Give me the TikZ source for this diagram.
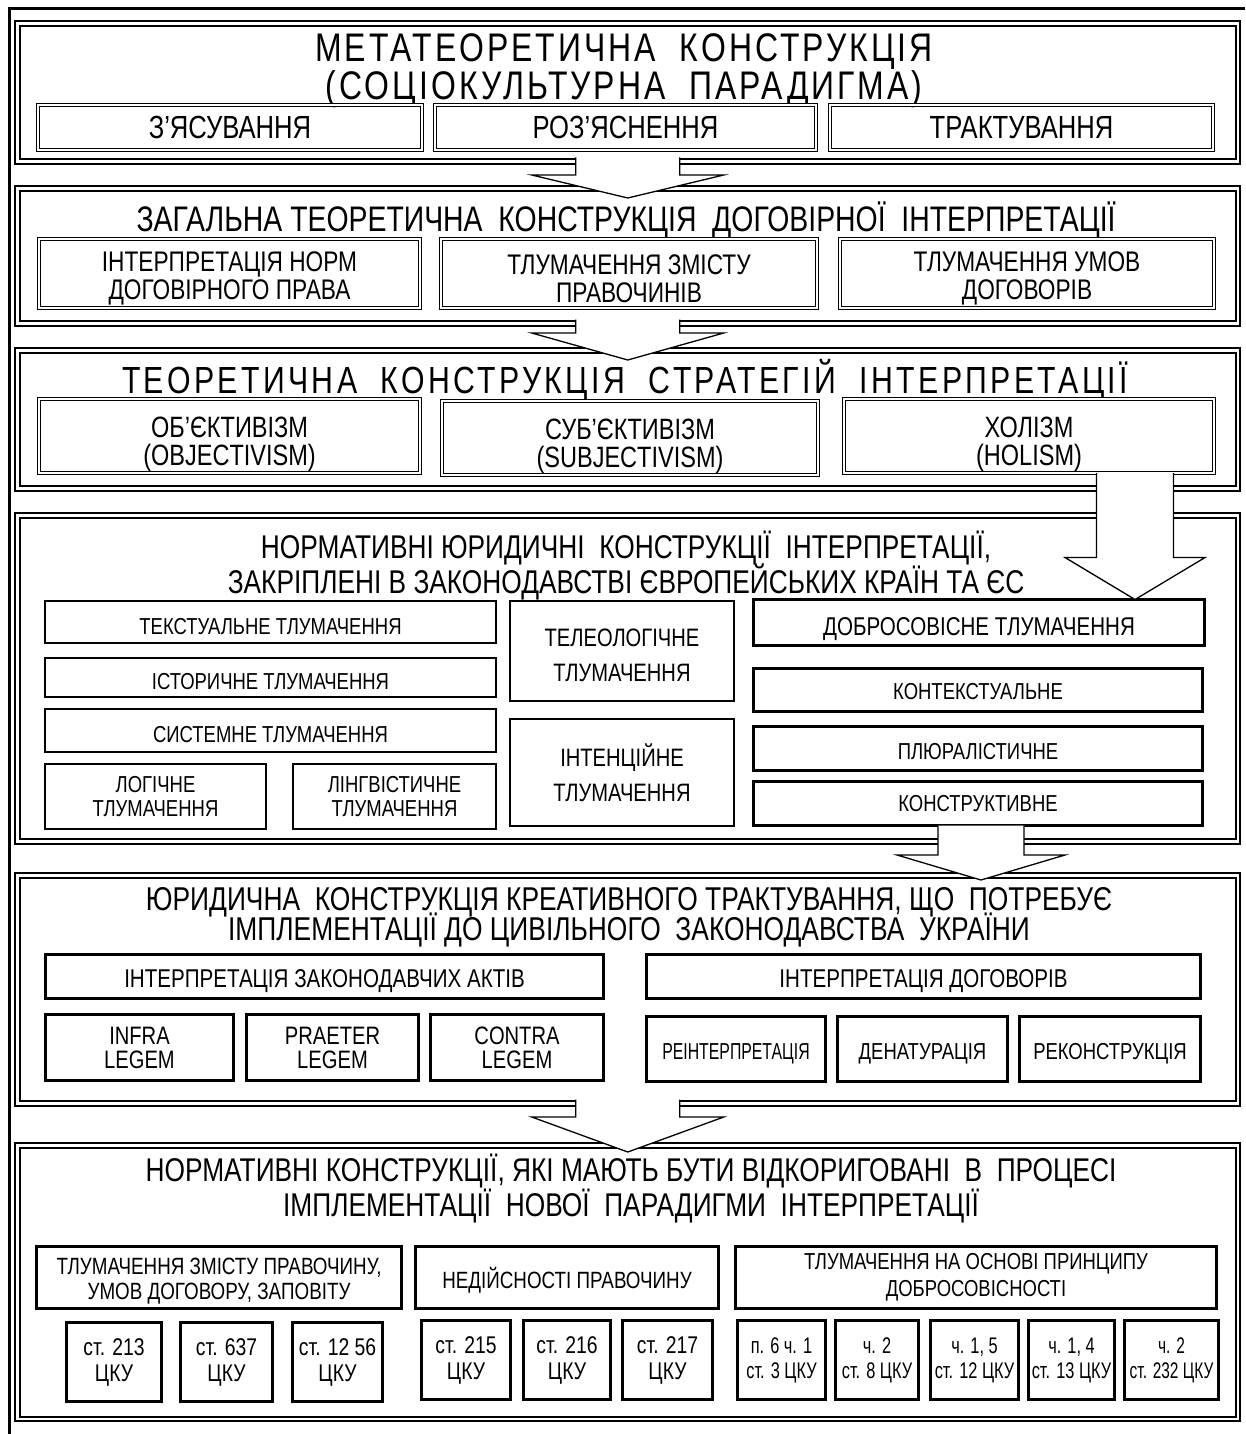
\documentclass[tikz,border=0pt]{standalone}
\usepackage{fontspec}
\setmainfont{Liberation Sans}[Scale=1.05,FakeStretch=0.80]
\newfontfamily\spacedfont{Liberation Sans}[Scale=1.05,FakeStretch=0.80,LetterSpace=7.6]
\newfontfamily\widefont{Liberation Sans}[Scale=1.05,FakeStretch=0.80,LetterSpace=8.9]
\newfontfamily\slimfont{Liberation Sans}[Scale=1.05,FakeStretch=0.725]
\newfontfamily\narrowfont{Liberation Sans}[Scale=1.05,FakeStretch=0.685]
\usetikzlibrary{calc,positioning}

\newcommand{\blockarrow}[5]{%
  \filldraw[arr] ($(#1)+(-#3,0)$) -- ($(#2)+(-#3,-#5)$) -- ($(#2)+(-#4,-#5)$) -- (#2)
    -- ($(#2)+(#4,-#5)$) -- ($(#2)+(#3,-#5)$) -- ($(#1)+(#3,0)$);}

\begin{document}
\lineskiplimit=-50pt
\begin{tikzpicture}[x=1pt,y=-1pt,
  blk/.style={draw,double,line width=1.7pt,double distance=2.8pt,inner sep=0pt,outer sep=0pt},
  sub/.style={draw,double,line width=0.9pt,double distance=1.8pt,inner sep=0pt,outer sep=0pt},
  frm/.style={draw,line width=2pt,inner sep=0pt,outer sep=0pt},
  cell/.style={frm,font=\fontsize{22}{24}\selectfont,text height=24pt,text depth=0pt},
  cellm/.style={frm,align=center,font=\fontsize{22}{24}\selectfont},
  heavy/.style={line width=3pt},
  lb/.style={align=center,inner sep=0pt,font=\fontsize{27}{28}\selectfont},
  ttl/.style={align=center,inner sep=0pt,font=\fontsize{31.3}{35}\selectfont},
  arr/.style={draw,fill=white,line width=1.3pt,line join=miter}]
\useasboundingbox (0,0) rectangle (1245,1434);
\draw[line width=3pt] (9,1434) -- (9,8.5) -- (1245,8.5);

\node[blk,minimum width=1220.5,minimum height=138] (b_1) at (627.75,92.5) {};
\node[blk,minimum width=1220.5,minimum height=135] (b_2) at (627.75,256) {};
\node[blk,minimum width=1220.5,minimum height=138] (b_3) at (627.75,419.5) {};
\node[blk,minimum width=1220.5,minimum height=326] (b_4) at (627.75,678.5) {};
\node[blk,minimum width=1220.5,minimum height=228] (b_5) at (627.75,989.5) {};
\node[blk,minimum width=1220.5,minimum height=273.5] (b_6) at (627.75,1282.25) {};

% metateoretychna
\node[ttl,font={\spacedfont\fontsize{38}{38}\selectfont}] (t_1) at (624,70.5)
  {МЕТАТЕОРЕТИЧНА~ КОНСТРУКЦІЯ\\(СОЦІОКУЛЬТУРНА~ ПАРАДИГМА)};
\node[sub,minimum width=384,minimum height=45.4,font=\fontsize{30.5}{32}\selectfont] (s_11) at (230,127.5) {З’ЯСУВАННЯ};
\node[sub,minimum width=381,minimum height=45.4,font=\fontsize{30.5}{32}\selectfont] (s_12) at (625.5,127.5) {РОЗ’ЯСНЕННЯ};
\node[sub,minimum width=383,minimum height=45.4,font=\fontsize{30.5}{32}\selectfont] (s_13) at (1021.5,127.5) {ТРАКТУВАННЯ};

% zagalna
\node[ttl,font=\fontsize{33.8}{35}\selectfont] (t_2) at (626,220)
  {ЗАГАЛЬНА ТЕОРЕТИЧНА~ КОНСТРУКЦІЯ~ ДОГОВІРНОЇ~ ІНТЕРПРЕТАЦІЇ};
\node[sub,minimum width=381,minimum height=69.4,label={[lb,yshift=-5pt]center:{ІНТЕРПРЕТАЦІЯ НОРМ\\ДОГОВІРНОГО ПРАВА}}] (s_21) at (229.5,273.5) {};
\node[sub,minimum width=376,minimum height=69.4,label={[lb,yshift=-5pt]center:{ТЛУМАЧЕННЯ ЗМІСТУ\\ПРАВОЧИНІВ}}] (s_22) at (629,273.5) {};
\node[sub,minimum width=374,minimum height=69.4,label={[lb,yshift=-5pt]center:{ТЛУМАЧЕННЯ УМОВ\\ДОГОВОРІВ}}] (s_23) at (1027,273.5) {};

% strategii
\node[ttl,font={\widefont\fontsize{36}{37}\selectfont}] (t_3) at (625,380)
  {ТЕОРЕТИЧНА~ КОНСТРУКЦІЯ~ СТРАТЕГІЙ~ ІНТЕРПРЕТАЦІЇ};
\node[sub,minimum width=381,minimum height=74,label={[lb,font=\fontsize{28}{28}\selectfont,yshift=-8pt]center:{ОБ’ЄКТИВІЗМ\\(OBJECTIVISM)}}] (s_31) at (229.5,436) {};
\node[sub,minimum width=376,minimum height=74,label={[lb,font=\fontsize{28}{28}\selectfont,yshift=-8pt]center:{СУБ’ЄКТИВІЗМ\\(SUBJECTIVISM)}}] (s_32) at (630,438) {};
\node[sub,minimum width=370,minimum height=74,label={[lb,font=\fontsize{28}{28}\selectfont,yshift=-8pt]center:{ХОЛІЗМ\\(HOLISM)}}] (s_33) at (1029,436) {};

% normatyvni
\node[ttl] (t_4) at (626,565.5)
  {НОРМАТИВНІ ЮРИДИЧНІ~ КОНСТРУКЦІЇ~ ІНТЕРПРЕТАЦІЇ,\\ЗАКРІПЛЕНІ В ЗАКОНОДАВСТВІ ЄВРОПЕЙСЬКИХ КРАЇН ТА ЄС};
\node[cell,minimum width=451,minimum height=42] (text) at (270.5,622) {ТЕКСТУАЛЬНЕ ТЛУМАЧЕННЯ};
\node[cell,minimum width=451,minimum height=39] (hist) at (270.5,677.5) {ІСТОРИЧНЕ ТЛУМАЧЕННЯ};
\node[cell,minimum width=451,minimum height=43] (syst) at (270.5,730.5) {СИСТЕМНЕ ТЛУМАЧЕННЯ};
\node[cellm,minimum width=221,minimum height=65] (logic) at (155.5,796.5) {ЛОГІЧНЕ\\ТЛУМАЧЕННЯ};
\node[cellm,minimum width=203,minimum height=65] (ling) at (394.5,796.5) {ЛІНГВІСТИЧНЕ\\ТЛУМАЧЕННЯ};
\node[frm,minimum width=224,minimum height=100,label={[lb,font=\fontsize{24}{35}\selectfont,yshift=-4pt]center:{ТЕЛЕОЛОГІЧНЕ\\ТЛУМАЧЕННЯ}}] (teleo) at (622,651) {};
\node[cellm,minimum width=224,minimum height=107,font=\fontsize{24}{35}\selectfont] (inten) at (622,772.5) {ІНТЕНЦІЙНЕ\\ТЛУМАЧЕННЯ};
\node[cell,heavy,minimum width=451,minimum height=46,font=\fontsize{24.5}{26}\selectfont,text height=25pt] (fair) at (979,622.5) {ДОБРОСОВІСНЕ ТЛУМАЧЕННЯ};
\node[cell,line width=2.5pt,minimum width=449,minimum height=43,text height=19pt] (cont) at (978,690) {КОНТЕКСТУАЛЬНЕ};
\node[cell,line width=2.5pt,minimum width=449,minimum height=44,text height=21pt] (plur) at (978,748.5) {ПЛЮРАЛІСТИЧНЕ};
\node[cell,line width=2.5pt,minimum width=449,minimum height=44,text height=16pt] (cons) at (978,803.5) {КОНСТРУКТИВНЕ};

% kreatyvne
\node[ttl,font=\fontsize{31.4}{30}\selectfont] (t_5) at (629,917)
  {ЮРИДИЧНА~ КОНСТРУКЦІЯ КРЕАТИВНОГО ТРАКТУВАННЯ, ЩО~ ПОТРЕБУЄ\\ІМПЛЕМЕНТАЦІЇ ДО ЦИВІЛЬНОГО~ ЗАКОНОДАВСТВА~ УКРАЇНИ};
\node[cell,heavy,minimum width=558,minimum height=44,font=\fontsize{24.5}{26}\selectfont,text height=22pt] (acts) at (324.5,976.5) {ІНТЕРПРЕТАЦІЯ ЗАКОНОДАВЧИХ АКТІВ};
\node[cellm,heavy,minimum width=188,minimum height=66,font=\fontsize{24}{24}\selectfont] (infra) at (139.5,1047.5) {INFRA\\LEGEM};
\node[cellm,heavy,minimum width=172,minimum height=66,font=\fontsize{24}{24}\selectfont] (praet) at (332.5,1047.5) {PRAETER\\LEGEM};
\node[cellm,heavy,minimum width=173,minimum height=66,font=\fontsize{24}{24}\selectfont] (contra) at (517,1047.5) {CONTRA\\LEGEM};
\node[cell,heavy,minimum width=554,minimum height=44,font=\fontsize{24.5}{26}\selectfont,text height=22pt] (dogs) at (923.5,976.5) {ІНТЕРПРЕТАЦІЯ ДОГОВОРІВ};
\node[cell,heavy,minimum width=179,minimum height=65,font={\narrowfont\fontsize{22}{24}\selectfont},text height=20pt] (reint) at (736,1049) {РЕІНТЕРПРЕТАЦІЯ};
\node[cell,heavy,minimum width=170,minimum height=65,text height=20pt] (denat) at (922.5,1049) {ДЕНАТУРАЦІЯ};
\node[cell,heavy,minimum width=181,minimum height=65,text height=20pt] (recon) at (1110,1049) {РЕКОНСТРУКЦІЯ};

% vidkoryguvaty
\node[ttl] (t_6) at (631,1189)
  {НОРМАТИВНІ КОНСТРУКЦІЇ, ЯКІ МАЮТЬ БУТИ ВІДКОРИГОВАНІ~ В~ ПРОЦЕСІ\\ІМПЛЕМЕНТАЦІЇ~ НОВОЇ~ ПАРАДИГМИ~ ІНТЕРПРЕТАЦІЇ};
\node[frm,heavy,minimum width=365,minimum height=62,label={[lb,font=\fontsize{22.4}{25}\selectfont,yshift=-4pt]center:{ТЛУМАЧЕННЯ ЗМІСТУ ПРАВОЧИНУ,\\УМОВ ДОГОВОРУ, ЗАПОВІТУ}}] (zmist) at (219,1277.5) {};
\node[cell,heavy,minimum width=303,minimum height=62,font=\fontsize{22.4}{25}\selectfont,text height=22pt] (nedij) at (567,1277.5) {НЕДІЙСНОСТІ ПРАВОЧИНУ};
\node[cellm,heavy,minimum width=481,minimum height=62,font=\fontsize{22}{27}\selectfont] (dobr) at (976,1277.5) {ТЛУМАЧЕННЯ НА ОСНОВІ ПРИНЦИПУ\\ДОБРОСОВІСНОСТІ};
\node[cellm,heavy,minimum width=95,minimum height=79,font=\fontsize{23}{26}\selectfont] (c_1) at (114,1362) {ст. 213\\ЦКУ};
\node[cellm,heavy,minimum width=92,minimum height=79,font=\fontsize{23}{26}\selectfont] (c_2) at (226.5,1362) {ст. 637\\ЦКУ};
\node[cellm,heavy,minimum width=90,minimum height=79,font=\fontsize{23}{26}\selectfont] (c_3) at (337.5,1362) {ст. 12 56\\ЦКУ};
\node[cellm,heavy,minimum width=89,minimum height=79,font=\fontsize{23}{26}\selectfont] (c_4) at (466,1360) {ст. 215\\ЦКУ};
\node[cellm,heavy,minimum width=87,minimum height=79,font=\fontsize{23}{26}\selectfont] (c_5) at (567,1360) {ст. 216\\ЦКУ};
\node[cellm,heavy,minimum width=90,minimum height=79,font=\fontsize{23}{26}\selectfont] (c_6) at (667.5,1360) {ст. 217\\ЦКУ};
\node[cellm,heavy,minimum width=88,minimum height=79,font={\slimfont\fontsize{21.5}{25}\selectfont}] (c_7) at (781.5,1360) {п. 6 ч. 1\\ст. 3 ЦКУ};
\node[cellm,heavy,minimum width=83,minimum height=79,font={\slimfont\fontsize{21.5}{25}\selectfont}] (c_8) at (877,1360) {ч. 2\\ст. 8 ЦКУ};
\node[cellm,heavy,minimum width=88,minimum height=79,font={\slimfont\fontsize{21.5}{25}\selectfont}] (c_9) at (974.5,1360) {ч. 1, 5\\ст. 12 ЦКУ};
\node[cellm,heavy,minimum width=86,minimum height=79,font={\slimfont\fontsize{21.5}{25}\selectfont}] (c_10) at (1071.5,1360) {ч. 1, 4\\ст. 13 ЦКУ};
\node[cellm,heavy,minimum width=94,minimum height=79,font={\narrowfont\fontsize{21.5}{25}\selectfont}] (c_11) at (1171.5,1360) {ч. 2\\ст. 232 ЦКУ};

% block arrows
\coordinate (a_1) at ($(b_1.south)+(0,-4)$);
\coordinate (a_1t) at ($(b_2.north)+(0,9.5)$);
\coordinate (a_2) at ($(b_2.south)+(0,-4)$);
\coordinate (a_2t) at ($(b_3.north)+(0,9.5)$);
\coordinate (a_3) at ($(s_33.south east)+(-79,0)$);
\coordinate (a_3t) at (a_3 |- fair.north);
\coordinate (a_4) at ($(cons.south)+(3,0)$);
\coordinate (a_4t) at ($(a_4 |- b_5.north)+(0,4.5)$);
\coordinate (a_5) at ($(b_5.south)+(0,-4)$);
\coordinate (a_5t) at ($(b_6.north)+(0,6.5)$);
\blockarrow{a_1}{a_1t}{52}{96}{23}
\blockarrow{a_2}{a_2t}{52}{96}{27}
\blockarrow{a_3}{a_3t}{38.5}{70}{42}
\blockarrow{a_4}{a_4t}{43}{84}{25}
\blockarrow{a_5}{a_5t}{52}{96}{35}
\end{tikzpicture}
\end{document}
